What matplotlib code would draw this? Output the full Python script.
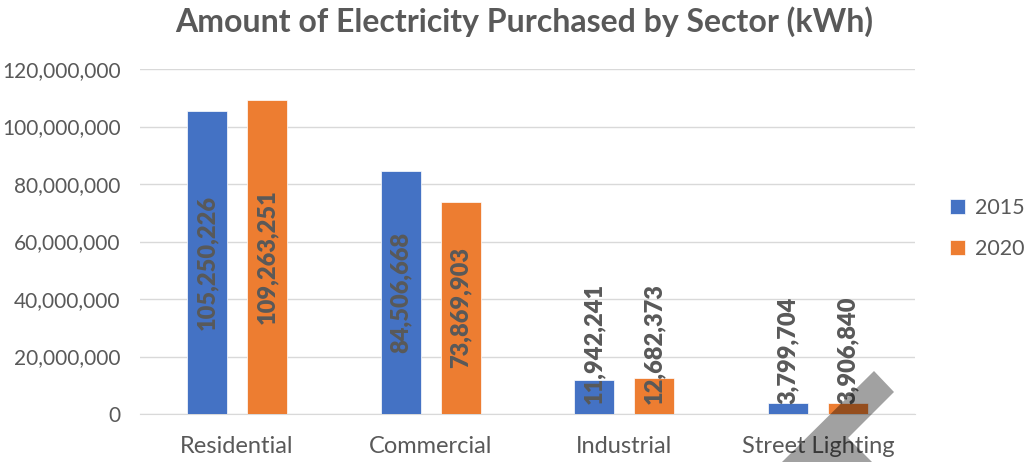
import numpy as np
import matplotlib
matplotlib.use("Agg")
import matplotlib.pyplot as plt
from matplotlib.patches import Polygon

plt.rcParams['font.family'] = ['Lato', 'DejaVu Sans']

sectors = ["Residential", "Commercial", "Industrial", "Street Lighting"]
years = ["2015", "2020"]
kwh_2015 = [105250226, 84506668, 11942241, 3799704]
kwh_2020 = [109263251, 73869903, 12682373, 3906840]
y_ticks = [0, 20000000, 40000000, 60000000, 80000000, 100000000, 120000000]

TEXT = '#595959'
GRID = '#D9D9D9'
colors = ['#4472C4', '#ED7D31']

fig = plt.figure(figsize=(10.28, 4.62), dpi=100)
ax = fig.add_axes([140/1028, 1 - 414/462, 775/1028, 345/462])

x = np.arange(len(sectors))
width = 0.206
offsets = [-0.155, 0.155]
series = [kwh_2015, kwh_2020]

for vals, off, col, yr in zip(series, offsets, colors, years):
    bars = ax.bar(x + off, vals, width, color=col, label=yr,
                  edgecolor='white', linewidth=0.5, zorder=3)
    for b, v in zip(bars, vals):
        cx = b.get_x() + b.get_width() / 2
        lbl = f"{v:,}"
        if v > 30000000:
            ax.text(cx, v / 2, lbl, rotation=90, ha='center', va='center',
                    fontsize=17, fontweight='heavy', color=TEXT, zorder=4)
        else:
            ax.annotate(lbl, xy=(cx, 0), xytext=(0, 7), textcoords='offset points',
                        rotation=90, ha='center', va='bottom',
                        fontsize=17, fontweight='heavy', color=TEXT, zorder=4)

ax.set_xlim(-0.5, len(sectors) - 0.5)
ax.set_ylim(0, 120000000)
ax.set_yticks(y_ticks)
ax.set_yticklabels([f"{t:,}" for t in y_ticks])
ax.set_xticks(x)
ax.set_xticklabels(sectors)
ax.tick_params(axis='y', length=0, pad=14, labelsize=15, labelcolor=TEXT)
ax.tick_params(axis='x', length=0, pad=16, labelsize=17, labelcolor=TEXT)
ax.grid(axis='y', color=GRID, linewidth=1, zorder=0)
for s in ['top', 'right', 'left']:
    ax.spines[s].set_visible(False)
ax.spines['bottom'].set_color(GRID)

fig.text(0.51, 1 - 22/462, "Amount of Electricity Purchased by Sector (kWh)",
         ha='center', va='center', fontsize=23, fontweight='bold', color=TEXT)

leg = ax.legend(loc='center left', bbox_to_anchor=(950/1028, 1 - 228.5/462),
                bbox_transform=fig.transFigure, frameon=False, fontsize=15.5,
                handlelength=0.7, handleheight=0.7, handletextpad=0.45,
                labelspacing=1.0, borderpad=0, borderaxespad=0)
for t in leg.get_texts():
    t.set_color(TEXT)

# grey stroke overlay at the lower right
W, H = 1028, 462
pts = [(874, 371), (894, 392), (848, 438), (872, 462), (782, 462)]
fig.patches.append(Polygon([(px / W, 1 - py / H) for px, py in pts], closed=True,
                           transform=fig.transFigure, facecolor='black',
                           alpha=0.37, edgecolor='none', zorder=10))

fig.savefig("out.png", dpi=100)
